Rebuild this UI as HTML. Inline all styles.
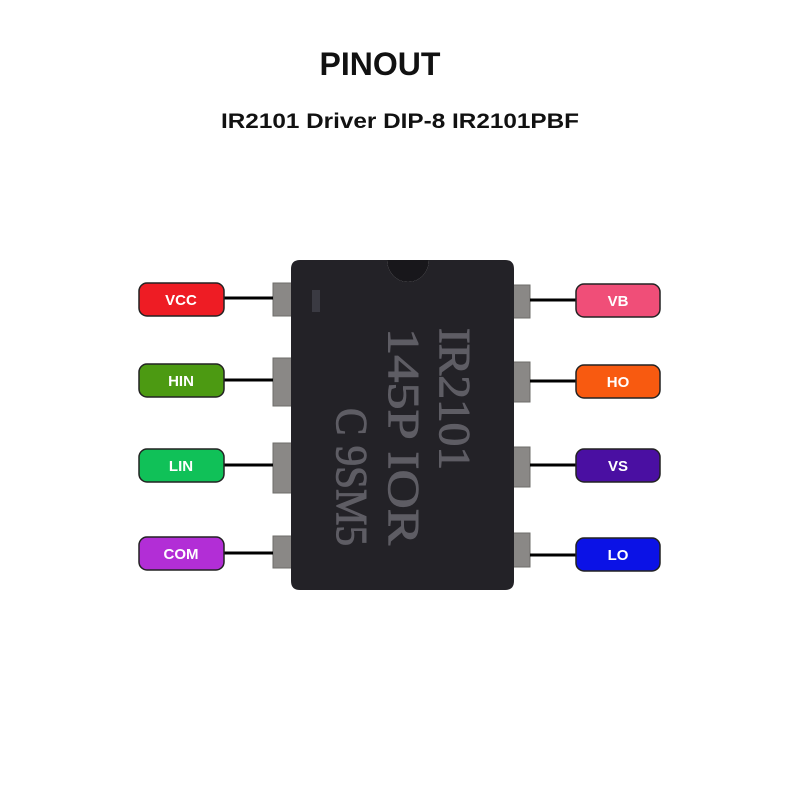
<!DOCTYPE html>
<html><head><meta charset="utf-8"><style>
html,body{margin:0;padding:0;background:#fff;}
body{width:800px;height:800px;position:relative;overflow:hidden;font-family:"Liberation Sans",sans-serif;}
</style></head><body>
<svg width="800" height="800" viewBox="0 0 800 800" xmlns="http://www.w3.org/2000/svg">
<text x="380" y="75" text-anchor="middle" font-family="Liberation Sans, sans-serif" font-weight="bold" font-size="32" fill="#111">PINOUT</text>
<text x="400" y="128" text-anchor="middle" font-family="Liberation Sans, sans-serif" font-weight="bold" font-size="21" fill="#111" textLength="358" lengthAdjust="spacingAndGlyphs">IR2101 Driver DIP-8 IR2101PBF</text>
<g fill="#8a8886" stroke="#6e6c6a" stroke-width="1">
<rect x="273" y="283" width="20" height="33"/>
<rect x="273" y="358" width="20" height="48"/>
<rect x="273" y="443" width="20" height="50"/>
<rect x="273" y="536" width="20" height="32"/>
<rect x="513" y="285" width="17" height="33"/>
<rect x="513" y="362" width="17" height="40"/>
<rect x="513" y="447" width="17" height="40"/>
<rect x="513" y="533" width="17" height="34"/>
</g>
<path d="M300 260 H387 A21 22 0 0 0 429 260 H505 Q514 260 514 269 V581 Q514 590 505 590 H300 Q291 590 291 581 V269 Q291 260 300 260 Z" fill="#232227"/>
<path d="M387 260 A21 22 0 0 0 429 260 Z" fill="#18171b"/>
<rect x="312" y="290" width="8" height="22" fill="#3a3a42"/>
<g font-family="Liberation Serif, serif" font-size="44" fill="#5e5d64" stroke="#5e5d64" stroke-width="1">
<text transform="translate(440,328) rotate(90)" textLength="142" lengthAdjust="spacingAndGlyphs">IR2101</text>
<text transform="translate(389,328) rotate(90)" textLength="217" lengthAdjust="spacingAndGlyphs">145P IOR</text>
<text transform="translate(337,408) rotate(90)" textLength="138" lengthAdjust="spacingAndGlyphs">C 9SM5</text>
</g>
<g stroke="#000" stroke-width="3">
<line x1="224" y1="298" x2="273" y2="298"/>
<line x1="224" y1="380" x2="273" y2="380"/>
<line x1="224" y1="465" x2="273" y2="465"/>
<line x1="224" y1="553" x2="273" y2="553"/>
<line x1="530" y1="300" x2="576" y2="300"/>
<line x1="530" y1="381" x2="576" y2="381"/>
<line x1="530" y1="465" x2="576" y2="465"/>
<line x1="530" y1="555" x2="576" y2="555"/>
</g>
<g stroke="#222" stroke-width="1.5">
<rect x="139" y="283" width="85" height="33" rx="8" fill="#ee1c24"/>
<rect x="139" y="364" width="85" height="33" rx="8" fill="#4c9a12"/>
<rect x="139" y="449" width="85" height="33" rx="8" fill="#10c158"/>
<rect x="139" y="537" width="85" height="33" rx="8" fill="#b22ed6"/>
<rect x="576" y="284" width="84" height="33" rx="8" fill="#f04e78"/>
<rect x="576" y="365" width="84" height="33" rx="8" fill="#f85a10"/>
<rect x="576" y="449" width="84" height="33" rx="8" fill="#4a0fa2"/>
<rect x="576" y="538" width="84" height="33" rx="8" fill="#0b12e6"/>
</g>
<g fill="#fff" font-family="Liberation Sans, sans-serif" font-weight="bold" font-size="15" text-anchor="middle">
<text x="181" y="305">VCC</text>
<text x="181" y="386">HIN</text>
<text x="181" y="471">LIN</text>
<text x="181" y="559">COM</text>
<text x="618" y="306">VB</text>
<text x="618" y="387">HO</text>
<text x="618" y="471">VS</text>
<text x="618" y="560">LO</text>
</g>
</svg>
</body></html>
